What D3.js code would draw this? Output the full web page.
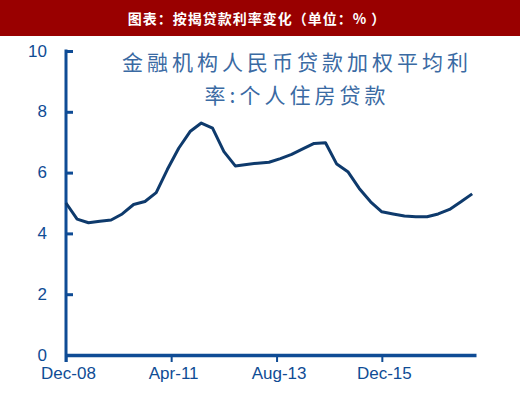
<!DOCTYPE html>
<html>
<head>
<meta charset="utf-8">
<script src="https://cdn.jsdelivr.net/npm/d3@7/dist/d3.min.js"></script>
<style>
  body { margin: 0; background: #fff; }
  svg { display: block; }
</style>
</head>
<body>
<svg id="chart"></svg>
<script>
// Quarterly dates, Dec-08 .. Dec-17
var dates = ["2008-12", "2009-03", "2009-06", "2009-09", "2009-12", "2010-03", "2010-06", "2010-09",
    "2010-12", "2011-03", "2011-06", "2011-09", "2011-12", "2012-03", "2012-06", "2012-09",
    "2012-12", "2013-03", "2013-06", "2013-09", "2013-12", "2014-03", "2014-06", "2014-09",
    "2014-12", "2015-03", "2015-06", "2015-09", "2015-12", "2016-03", "2016-06", "2016-09",
    "2016-12", "2017-03", "2017-06", "2017-09", "2017-12"];
// 个人住房贷款加权平均利率 (%)
var rates = [5.00, 4.47, 4.35, 4.40, 4.44, 4.64, 4.95, 5.05,
    5.34, 6.10, 6.80, 7.35, 7.63, 7.46, 6.69, 6.22,
    6.27, 6.31, 6.34, 6.46, 6.60, 6.78, 6.96, 6.98,
    6.28, 6.03, 5.48, 5.04, 4.71, 4.64, 4.57, 4.55,
    4.55, 4.64, 4.79, 5.04, 5.30];
var xTickLabels = ["Dec-08", "Apr-11", "Aug-13", "Dec-15"];
var yTicks = [0, 2, 4, 6, 8, 10];

var headerText = "图表：按揭贷款利率变化（单位：% ）";
var titleLines = ["金融机构人民币贷款加权平均利", "率:个人住房贷款"];

var width = 520, height = 400;
var axisColor = "#0f4c95", lineColor = "#0e3a6c";

var svg = d3.select("#chart")
    .attr("width", width)
    .attr("height", height);

// header bar
svg.append("rect")
    .attr("x", 0).attr("y", 0)
    .attr("width", width).attr("height", 36)
    .attr("fill", "#990000");
svg.append("text")
    .attr("x", 257).attr("y", 24)
    .attr("text-anchor", "middle")
    .style("font-family", "'Noto Sans CJK SC', sans-serif")
    .style("font-size", "14px")
    .style("font-weight", "bold")
    .style("letter-spacing", "1px")
    .attr("fill", "#fff")
    .text(headerText);

var parseMonth = d3.timeParse("%Y-%m");
var parseTick = d3.timeParse("%b-%y");
var data = dates.map(function (d, i) { return {date: parseMonth(d), value: rates[i]}; });

var x = d3.scaleTime()
    .domain([parseMonth("2008-12"), parseMonth("2018-01")])
    .range([66, 476]);
var y = d3.scaleLinear()
    .domain([0, 10])
    .range([355, 51]);

// y axis, ticks pointing inward
var yAxis = svg.append("g")
    .attr("transform", "translate(66,0)")
    .call(d3.axisRight(y).tickValues(yTicks).tickSize(7).tickSizeOuter(0).tickFormat(d3.format("d")));
yAxis.select(".domain").remove();
yAxis.selectAll(".tick line").attr("stroke", axisColor).attr("stroke-width", 3);
yAxis.selectAll("text")
    .attr("x", -19)
    .attr("dy", "0.3em")
    .style("text-anchor", "end")
    .style("font-family", "'Liberation Sans', Arial, sans-serif")
    .style("font-size", "17px")
    .attr("fill", axisColor);
svg.append("line")
    .attr("x1", 66).attr("x2", 66)
    .attr("y1", y(10) - 1.5).attr("y2", 362)
    .attr("stroke", axisColor).attr("stroke-width", 3);

// x axis
var xAxis = svg.append("g")
    .attr("transform", "translate(0,355)")
    .call(d3.axisBottom(x)
        .tickValues(xTickLabels.map(parseTick))
        .tickSize(7).tickSizeOuter(0)
        .tickFormat(d3.timeFormat("%b-%y")));
xAxis.select(".domain").attr("stroke", axisColor).attr("stroke-width", 3.5);
xAxis.selectAll(".tick line").attr("stroke", axisColor).attr("stroke-width", 2);
xAxis.selectAll("text")
    .attr("x", 2)
    .attr("y", 12)
    .attr("dy", "0.71em")
    .style("font-family", "'Liberation Sans', Arial, sans-serif")
    .style("font-size", "17px")
    .attr("fill", axisColor);

// series line
svg.append("path")
    .datum(data)
    .attr("fill", "none")
    .attr("stroke", lineColor)
    .attr("stroke-width", 3)
    .attr("stroke-linejoin", "round")
    .attr("d", d3.line()
        .x(function (d) { return x(d.date); })
        .y(function (d) { return y(d.value); }));

// chart title
svg.append("g").selectAll("text")
    .data(titleLines)
    .enter().append("text")
    .attr("x", 297)
    .attr("y", function (d, i) { return 70 + i * 33; })
    .attr("text-anchor", "middle")
    .style("font-family", "'Noto Sans CJK SC', serif")
    .style("font-size", "21px")
    .style("letter-spacing", "4px")
    .attr("fill", "#3a6aa3")
    .text(function (d) { return d; });
</script>
</body>
</html>
